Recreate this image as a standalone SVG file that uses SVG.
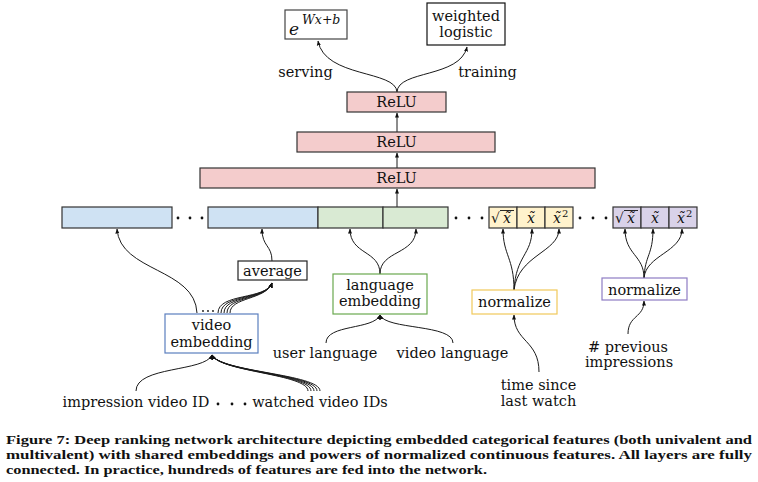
<svg xmlns="http://www.w3.org/2000/svg" width="758" height="482" viewBox="0 0 758 482">
<style>
text{font-family:"DejaVu Serif","Liberation Serif",serif;font-size:14.5px;fill:#111}
.m{font-family:"DejaVu Serif","Liberation Serif",serif;font-style:italic;font-size:14px}
.cap{font-family:"Liberation Serif",serif;font-weight:bold;font-size:13px}
.c{fill:none;stroke:#1a1a1a;stroke-width:1;marker-end:url(#ah)}
.relu{fill:#f4cccc;stroke:#333;stroke-width:1.2}
.blue{fill:#cfe2f3;stroke:#333;stroke-width:1.2}
.green{fill:#d9ead3;stroke:#333;stroke-width:1.2}
.yel{fill:#fff2cc;stroke:#333;stroke-width:1.2}
.pur{fill:#d9d2e9;stroke:#333;stroke-width:1.2}
.dot{fill:#111}
</style>
<defs>
<marker id="ah" viewBox="0 0 10 10" refX="9" refY="5" markerWidth="5" markerHeight="5" orient="auto" markerUnits="userSpaceOnUse">
<path d="M0,1 L10,5 L0,9 z" fill="#111"/>
</marker>
</defs>
<rect width="758" height="482" fill="#fff"/>

<g id="connectors">
<path class="c" d="M397,92 C396,70 325,78 318,41"/>
<path class="c" d="M397,92 C398,70 460,78 467,47"/>
<path class="c" d="M397,132 L397,113"/>
<path class="c" d="M397,168 L397,153"/>
<path class="c" d="M397,207 L397,189"/>
<path class="c" d="M197,313 C195,268 120,272 117,229"/>
<path class="c" d="M218,313 C218,293 266,300 272,283"/>
<path class="c" d="M221,313 C221,294 266,300 272,283"/>
<path class="c" d="M224,313 C224,295 266,300 272,283"/>
<path class="c" d="M227,313 C227,296 266,300 272,283"/>
<path class="c" d="M230,313 C230,297 266,300 272,283"/>
<path class="c" d="M272,261 C272,245 262,247 262,229"/>
<path class="c" d="M380,274 C380,250 350,255 350,229"/>
<path class="c" d="M380,274 C380,250 416,255 416,229"/>
<path class="c" d="M514,290 C514,258 503,255 503,229"/>
<path class="c" d="M514,290 C516,255 532,255 532,229"/>
<path class="c" d="M514,290 C518,255 559,252 559,229"/>
<path class="c" d="M644,278 C644,255 625,255 625,229"/>
<path class="c" d="M644,278 C645,255 653,255 653,229"/>
<path class="c" d="M644,278 C646,255 682,252 682,229"/>
<path class="c" d="M326,343 C326,324 374,330 380,315"/>
<path class="c" d="M453,343 C453,324 386,330 380,315"/>
<path class="c" d="M136,391 C136,366 205,372 212,355"/>
<path class="c" d="M308,391 C308,374 220,372 212,355"/>
<path class="c" d="M311,391 C311,374 220,372 212,355"/>
<path class="c" d="M314,391 C314,374 220,372 212,355"/>
<path class="c" d="M317,391 C317,374 220,372 212,355"/>
<path class="c" d="M320,391 C320,374 220,372 212,355"/>
<path class="c" d="M539,372 C539,340 514,342 514,315"/>
<path class="c" d="M628,334 C628,315 644,318 644,301"/>
</g>

<g id="serving-box">
<rect x="285" y="10" width="62" height="29" fill="#fff" stroke="#444" stroke-width="1.2"/>
<text class="m" x="289" y="35" style="font-size:17px">e</text>
<text class="m" x="302" y="24" style="font-size:12.5px">Wx+b</text>
</g>
<g id="training-box">
<rect x="427" y="3" width="78" height="42" fill="#fff" stroke="#111" stroke-width="1.2"/>
<text x="466" y="21" text-anchor="middle">weighted</text>
<text x="466" y="37" text-anchor="middle">logistic</text>
</g>
<text x="305.5" y="77" text-anchor="middle">serving</text>
<text x="487.5" y="77" text-anchor="middle">training</text>

<g id="relu-top"><rect class="relu" x="347" y="92" width="99" height="20"/><text x="396.5" y="107" text-anchor="middle">ReLU</text></g>
<g id="relu-mid"><rect class="relu" x="297" y="132" width="198" height="20"/><text x="396.5" y="147" text-anchor="middle">ReLU</text></g>
<g id="relu-bot"><rect class="relu" x="200" y="168" width="395" height="20"/><text x="396.5" y="183" text-anchor="middle">ReLU</text></g>

<g id="feature-row">
<rect class="blue" x="62" y="207" width="110" height="21"/>
<circle class="dot" cx="178" cy="218" r="1.4"/><circle class="dot" cx="190" cy="218" r="1.4"/><circle class="dot" cx="202" cy="218" r="1.4"/>
<rect class="blue" x="208" y="207" width="110" height="21"/>
<rect class="green" x="318" y="207" width="65" height="21"/>
<rect class="green" x="383" y="207" width="65" height="21"/>
<circle class="dot" cx="456" cy="218" r="1.4"/><circle class="dot" cx="469" cy="218" r="1.4"/><circle class="dot" cx="482" cy="218" r="1.4"/>
<rect class="yel" x="489" y="207" width="28" height="21"/>
<rect class="yel" x="517" y="207" width="28" height="21"/>
<rect class="yel" x="545" y="207" width="28" height="21"/>
<circle class="dot" cx="580" cy="218" r="1.4"/><circle class="dot" cx="593" cy="218" r="1.4"/><circle class="dot" cx="606" cy="218" r="1.4"/>
<rect class="pur" x="613" y="207" width="28" height="21"/>
<rect class="pur" x="641" y="207" width="28" height="21"/>
<rect class="pur" x="669" y="207" width="28" height="21"/>
<text x="491" y="223" style="font-size:14px">√</text>
<line x1="500" y1="210.5" x2="514" y2="210.5" stroke="#111" stroke-width="0.9"/>
<text class="m" x="507" y="223" text-anchor="middle">x̃</text>
<text class="m" x="531" y="223" text-anchor="middle">x̃</text>
<text class="m" x="553" y="223">x̃</text><text x="562" y="217" style="font-size:10px">2</text>
<text x="615" y="223" style="font-size:14px">√</text>
<line x1="624" y1="210.5" x2="638" y2="210.5" stroke="#111" stroke-width="0.9"/>
<text class="m" x="631" y="223" text-anchor="middle">x̃</text>
<text class="m" x="655" y="223" text-anchor="middle">x̃</text>
<text class="m" x="677" y="223">x̃</text><text x="686" y="217" style="font-size:10px">2</text>
</g>

<g id="average"><rect x="238" y="261" width="69" height="19" fill="#fff" stroke="#222" stroke-width="1.2"/><text x="272.5" y="276" text-anchor="middle">average</text></g>
<g id="language-embedding"><rect x="333" y="274" width="94" height="40" fill="#fff" stroke="#6aa84f" stroke-width="1.2"/><text x="380" y="290" text-anchor="middle">language</text><text x="380" y="306" text-anchor="middle">embedding</text></g>
<g id="video-embedding"><rect x="165" y="314" width="93" height="39" fill="#fff" stroke="#5b7fbf" stroke-width="1.2"/><text x="211.5" y="330" text-anchor="middle">video</text><text x="211.5" y="347" text-anchor="middle">embedding</text></g>
<circle class="dot" cx="203" cy="311" r="0.9"/><circle class="dot" cx="208" cy="311" r="0.9"/><circle class="dot" cx="213" cy="311" r="0.9"/>
<g id="normalize-time"><rect x="472" y="290" width="85" height="24" fill="#fff" stroke="#f1c95a" stroke-width="1.2"/><text x="514.5" y="307" text-anchor="middle">normalize</text></g>
<g id="normalize-impr"><rect x="602" y="278" width="85" height="22" fill="#fff" stroke="#8e7cc3" stroke-width="1.2"/><text x="644.5" y="295" text-anchor="middle">normalize</text></g>

<text x="325" y="358" text-anchor="middle">user language</text>
<text x="452.5" y="358" text-anchor="middle">video language</text>
<text x="136" y="407" text-anchor="middle">impression video ID</text>
<circle class="dot" cx="218" cy="404" r="1.4"/><circle class="dot" cx="232" cy="404" r="1.4"/><circle class="dot" cx="245" cy="404" r="1.4"/>
<text x="320" y="407" text-anchor="middle">watched video IDs</text>
<text x="538.5" y="390" text-anchor="middle">time since</text>
<text x="538.5" y="406" text-anchor="middle">last watch</text>
<text x="628" y="352" text-anchor="middle"># previous</text>
<text x="629" y="367" text-anchor="middle">impressions</text>

<text class="cap" x="6" y="444" textLength="746" lengthAdjust="spacingAndGlyphs">Figure 7: Deep ranking network architecture depicting embedded categorical features (both univalent and</text>
<text class="cap" x="6" y="459" textLength="746" lengthAdjust="spacingAndGlyphs">multivalent) with shared embeddings and powers of normalized continuous features.  All layers are fully</text>
<text class="cap" x="6" y="474" textLength="481" lengthAdjust="spacingAndGlyphs">connected. In practice, hundreds of features are fed into the network.</text>
</svg>
